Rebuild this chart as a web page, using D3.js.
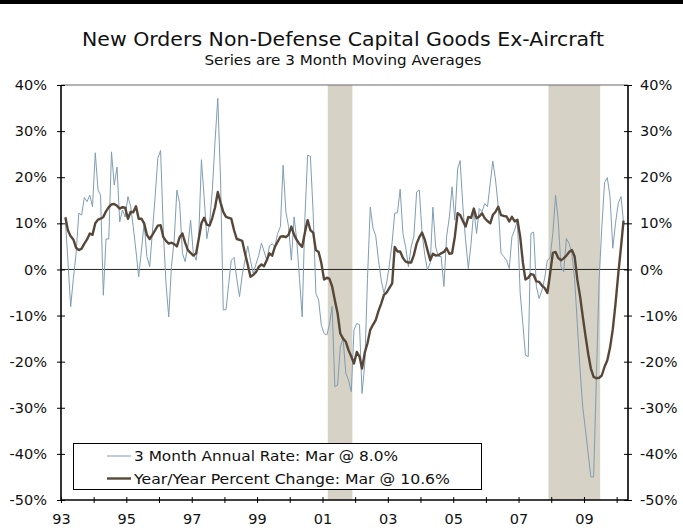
<!DOCTYPE html>
<html>
<head>
<meta charset="utf-8">
<script src="https://cdn.jsdelivr.net/npm/d3@7"></script>
<style>
  body { margin: 0; background: #fff; }
  text { font-family: "DejaVu Sans", Verdana, sans-serif; fill: #111; }
</style>
</head>
<body>
<script>
var width = 683, height = 532;

// monthly, Feb 1993 .. Mar 2010
var firstMonth = new Date(1993, 1, 1),
    lastMonth = new Date(2010, 2, 1);

// 3 month annual rate (thin line)
var annualRate = [
  10.6, 2, -8.1, -2, 3.5, 12.2, 11.8, 15.6, 14.7, 16.1,
  13.6, 25.3, 17.2, 16.1, -5.6, 6.6, 6.6, 25.5, 18.3, 22.2,
  10.3, 12.9, 11.4, 15.8, 13.6, 9.3, 4, -1.6, 4.2, 10.0,
  2.8, 0.6, 8, 15.8, 24.1, 25.8, 8, -3, -10.3, 0.6,
  6.4, 17.2, 14.3, 3.5, 1.7, 5, 10.7, 3.5, 2, 6.4,
  23.8, 15.8, 6.7, 10, 17.2, 28, 37.1, 19.4, -8.8, -8.7,
  -3, 2.0, 2.6, -2, -5.9, -1.2, 2, 5.1, 2.0, -0.9,
  1.1, 3, 5.7, 4, 2.0, 5.1, 5.5, 5, 7.8, 9.3,
  22.6, 12.5, 9.3, 2.0, 11.4, 6.4, -2, -10.3, 11.4, 24.8,
  24.5, 12.2, -5.2, -6.6, -12.1, -13.9, -14.2, -12, -8, -25.4,
  -25.1, -16.8, -15, -22.5, -24, -26.5, -13.1, -11.7, -12, -26.9,
  -20.4, -2, 13.5, 9, 7.3, 2.0, -2.3, -5.1, -2.9, 1.1,
  6, 12.2, 12.3, 17.4, 7.8, 4.9, 0.6, 4.9, 7.1, 16.8,
  17.2, 7.8, 3, -0.1, 1.4, 13.5, 4.9, 2.8, 2.8, -3.7,
  7.1, 11.4, 17.9, 10.7, 21.8, 23.6, 13.6, 6.4, 0.2, 5.6,
  12.9, 7.8, 13.2, 12.5, 14.3, 13.6, 18.8, 23.5, 19.4, 13.6,
  3.5, 2.8, 2, 0.2, 7.1, 8.6, 10.7, -5.1, -12, -18.6,
  -18.9, 7.8, 8.1, -3.7, -6.3, -4.5, -2.0, 2.0, 2.5, 7.8,
  16.1, 10.7, 0.6, -0.5, 6.7, 5.6, 3.5, -2.2, -12, -22,
  -30, -35, -40.3, -45, -45, -24, -2.3, 9, 18.8, 19.9,
  15.8, 4.6, 10, 14.3, 15.8, 10.2
];

// year/year percent change (thick line)
var yoyChange = [
  11.3, 8.5, 7.2, 6.5, 4.7, 4.2, 4.5, 5.6, 6.5, 7.8,
  7.5, 10.0, 10.8, 11.0, 11.4, 12.6, 13.5, 14.1, 14.2, 13.8,
  13.2, 13.5, 13.4, 11.0, 12.5, 12.4, 13.7, 11.0, 11.0, 10.0,
  7.5, 6.6, 7.5, 8.5, 9.5, 9.6, 7.0, 6.2, 5.6, 5.8,
  5.5, 5.0, 7.0, 7.8, 5.8, 4.2, 3.6, 3.0, 3.5, 6.5,
  10.0, 11.2, 9.7, 9.5, 11.2, 13.5, 16.8, 14.5, 12.5, 11.4,
  11.2, 11.0, 8.5, 6.6, 6.4, 6.2, 3.5, 1.0, -1.6, -1.2,
  -0.6, 0.5, 1.1, 0.7, 2.0, 3.5, 3.0, 4.9, 6.0, 7.1,
  7.2, 7.0, 7.5, 9.3, 7.5, 6.4, 5.5, 4.9, 8.0, 10.7,
  8.5, 8.0, 4.2, 3.8, 1.4, -2.2, -1.8, -2.0, -3.7, -6.7,
  -9.5, -13.9, -15.0, -15.7, -17.5, -18.9, -20.4, -17.9, -18.9, -21.5,
  -18.0, -16.0, -13.1, -12.0, -11.0, -9.0, -7.4, -5.5, -5.0, -4.0,
  -3.0, 4.9, 3.9, 3.9, 2.5, 1.7, 1.5, 1.5, 3.1, 5.6,
  7.0, 8.0, 6.4, 4.2, 2.0, 3.4, 3.0, 3.1, 3.5, 3.8,
  4.6, 3.4, 3.5, 7.1, 12.2, 11.8, 10.5, 9.3, 11.4, 11.2,
  13.2, 11.1, 11.5, 12.2, 11.1, 10.5, 10.0, 11.8, 12.5, 13.6,
  11.8, 11.6, 11.5, 10.4, 11.4, 10.4, 10.8, 7.1, 1.4, -2.2,
  -1.8, -1.0, -1.2, -2.6, -2.7, -3.5, -4.0, -5.1, -1.0, 3.6,
  3.8, 2.5, 2.0, 2.4, 3.0, 3.8, 4.2, 2.8, -2.2, -5.9,
  -10.3, -14.5, -18.5, -21.5, -23.3, -23.6, -23.5, -23.0, -21.1, -19.7,
  -17.0, -13.0, -7.5, -1.0, 4.9, 10.6
];

// recessions (start, end)
var recessions = [
  [new Date(2001, 2, 1), new Date(2001, 11, 1)],
  [new Date(2007, 11, 1), new Date(2009, 6, 1)]
];

var yTicks = [40, 30, 20, 10, 0, -10, -20, -30, -40, -50];
var yearTicks = d3.range(1993, 2011);

var legendLabels = ["3 Month Annual Rate: Mar @ 8.0%",
                    "Year/Year Percent Change: Mar @ 10.6%"];

// points sit a little past the start of each month
var months = d3.timeMonth.range(firstMonth, d3.timeMonth.offset(lastMonth, 1))
    .map(d => d3.timeDay.offset(d, 18));

var plotL = 61, plotR = 628, plotT = 85, plotB = 500;

var svg = d3.select("body").append("svg")
    .attr("width", width)
    .attr("height", height);

var x = d3.scaleTime()
    .domain([new Date(1993, 0, 1), new Date(2010, 4, 8)])
    .range([plotL, plotR]);

var y = d3.scaleLinear()
    .domain([-50, 40])
    .range([plotB, plotT]);

// black band at the top
svg.append("rect")
    .attr("x", 0).attr("y", 0)
    .attr("width", width).attr("height", 4)
    .attr("fill", "#000");

svg.append("text")
    .attr("x", 343).attr("y", 46)
    .attr("text-anchor", "middle")
    .attr("textLength", 522)
    .attr("lengthAdjust", "spacingAndGlyphs")
    .style("font-size", "19px")
    .text("New Orders Non-Defense Capital Goods Ex-Aircraft");

svg.append("text")
    .attr("x", 343).attr("y", 65)
    .attr("text-anchor", "middle")
    .attr("textLength", 277)
    .attr("lengthAdjust", "spacingAndGlyphs")
    .style("font-size", "14px")
    .text("Series are 3 Month Moving Averages");

// recession bars
svg.selectAll(".recession")
    .data(recessions)
    .enter().append("rect")
    .attr("class", "recession")
    .attr("x", d => x(d[0]))
    .attr("width", d => x(d[1]) - x(d[0]))
    .attr("y", plotT)
    .attr("height", plotB - plotT)
    .attr("fill", "#d6d2c5");

// top border
svg.append("line")
    .attr("x1", plotL).attr("x2", plotR)
    .attr("y1", plotT).attr("y2", plotT)
    .attr("stroke", "#666").attr("stroke-width", 1.2);

// zero line
svg.append("line")
    .attr("x1", plotL).attr("x2", plotR)
    .attr("y1", y(0)).attr("y2", y(0))
    .attr("stroke", "#222").attr("stroke-width", 1);

var line = d3.line()
    .x((d, i) => x(months[i]))
    .y(d => y(d));

svg.append("path")
    .datum(annualRate)
    .attr("fill", "none")
    .attr("stroke", "#7f9db4")
    .attr("stroke-width", 1)
    .attr("d", line);

svg.append("path")
    .datum(yoyChange)
    .attr("fill", "none")
    .attr("stroke", "#574739")
    .attr("stroke-width", 2.4)
    .attr("stroke-linejoin", "round")
    .attr("d", line);

// left / right axes
var leftAxis = d3.axisLeft(y)
    .tickValues(yTicks)
    .tickSize(0)
    .tickPadding(14)
    .tickFormat(d => d + "%");

var rightAxis = d3.axisRight(y)
    .tickValues(yTicks)
    .tickSize(0)
    .tickPadding(12)
    .tickFormat(d => d + "%");

[[leftAxis, plotL], [rightAxis, plotR]].forEach(function (a) {
    var g = svg.append("g")
        .attr("transform", "translate(" + a[1] + ",0)")
        .call(a[0]);
    g.select(".domain").remove();
    g.selectAll("text").style("font-size", "14.5px").attr("fill", "#111");
    g.selectAll(".tick").append("line")
        .attr("x1", -4).attr("x2", 4)
        .attr("stroke", "#000");
    g.append("line")
        .attr("y1", plotT).attr("y2", plotB)
        .attr("stroke", "#000").attr("stroke-width", 1.6);
});

// bottom axis
var xAxis = d3.axisBottom(x)
    .tickValues(yearTicks.map(d => new Date(d, 0, 1)))
    .tickSize(0)
    .tickPadding(14)
    .tickFormat(d => d.getFullYear() % 2 === 1 ? d3.timeFormat("%y")(d) : "");

var gx = svg.append("g")
    .attr("transform", "translate(0," + plotB + ")")
    .call(xAxis);
gx.select(".domain").remove();
gx.selectAll("text").style("font-size", "14.5px").attr("fill", "#111");
gx.selectAll(".tick").append("line")
    .attr("y1", -3).attr("y2", 3)
    .attr("stroke", "#000");
gx.append("line")
    .attr("x1", plotL).attr("x2", plotR)
    .attr("stroke", "#000").attr("stroke-width", 1.6);

// legend
var legend = svg.append("g");
legend.append("rect")
    .attr("x", 73.5).attr("y", 443.5)
    .attr("width", 408).attr("height", 46)
    .attr("fill", "#fff")
    .attr("stroke", "#000").attr("stroke-width", 1);

var legendStyles = [["#7f9db4", 1], ["#574739", 2.4]];
legendLabels.forEach(function (lbl, i) {
    var ly = 456 + i * 22.5;
    legend.append("line")
        .attr("x1", 107).attr("x2", 131)
        .attr("y1", ly).attr("y2", ly)
        .attr("stroke", legendStyles[i][0])
        .attr("stroke-width", legendStyles[i][1]);
    legend.append("text")
        .attr("x", 134).attr("y", ly + 5)
        .attr("textLength", i === 0 ? 264 : 316)
        .attr("lengthAdjust", "spacingAndGlyphs")
        .style("font-size", "14px")
        .text(lbl);
});
</script>
</body>
</html>
